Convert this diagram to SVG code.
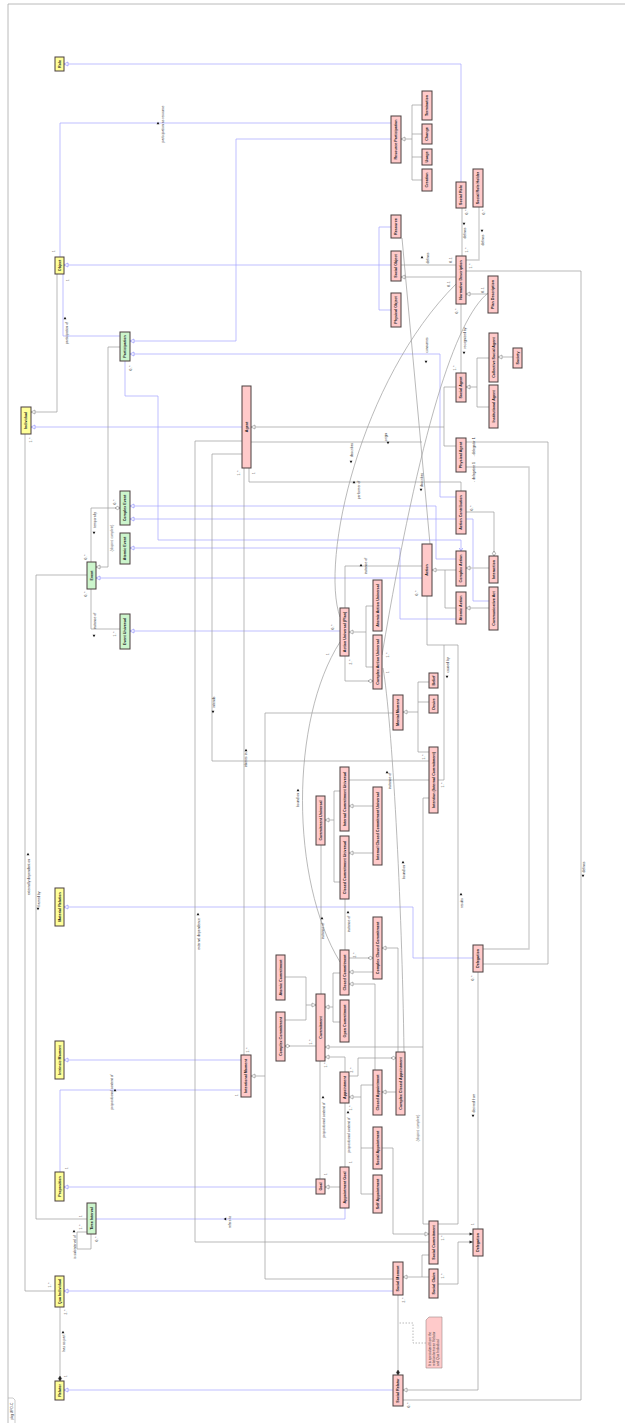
<svg xmlns="http://www.w3.org/2000/svg" width="625" height="1423" viewBox="0 0 625 1423" font-family="'Liberation Sans', Arial, sans-serif">
<style>
text{font-family:'Liberation Sans',Arial,sans-serif}
.n rect{stroke:#4a3e3e;stroke-width:1}
.n text{font-family:'Liberation Sans',Arial,sans-serif;font-size:3.7px;font-weight:bold;text-anchor:middle;dominant-baseline:central;fill:#222}
.y rect{fill:#ffff99}
.gr rect{fill:#ccf5cc}
.p rect{fill:#ffcaca}
#conn path{fill:none;stroke:#9c9c9c;stroke-width:0.7}
#conn path.b{stroke:#a4a4ff}
#conn path.t{stroke:#cfcfcf;stroke-width:1.4}
#conn path.d{stroke-dasharray:1.5,1.5}
.el{font-family:'Liberation Sans',Arial,sans-serif;font-size:3.4px;fill:#333;text-anchor:middle;dominant-baseline:central}
.m{font-family:'Liberation Sans',Arial,sans-serif;font-size:3.2px;fill:#555;text-anchor:middle;dominant-baseline:central}
.ta{fill:#111}
</style>
<defs>
<marker id="gG" viewBox="-6 -3 7 6" refX="0" refY="0" markerWidth="7" markerHeight="6" markerUnits="userSpaceOnUse" orient="auto"><path d="M-4,-2 L0,0 L-4,2 Z" fill="#fff" stroke="#888" stroke-width="0.6"/></marker>
<marker id="gB" viewBox="-6 -3 7 6" refX="0" refY="0" markerWidth="7" markerHeight="6" markerUnits="userSpaceOnUse" orient="auto"><path d="M-4,-2 L0,0 L-4,2 Z" fill="#fff" stroke="#8888ff" stroke-width="0.6"/></marker>
<marker id="aB" viewBox="-6 -3 7 6" refX="0" refY="0" markerWidth="7" markerHeight="6" markerUnits="userSpaceOnUse" orient="auto"><path d="M-3,-1.8 L0,0 L-3,1.8" fill="none" stroke="#8888ff" stroke-width="0.6"/></marker>
<marker id="dH" viewBox="-7 -3 8 6" refX="0" refY="0" markerWidth="8" markerHeight="6" markerUnits="userSpaceOnUse" orient="auto"><path d="M0,0 L-2.5,-1.6 L-5,0 L-2.5,1.6 Z" fill="#fff" stroke="#777" stroke-width="0.6"/></marker>
<marker id="dF" viewBox="-7 -3 8 6" refX="0" refY="0" markerWidth="8" markerHeight="6" markerUnits="userSpaceOnUse" orient="auto"><path d="M0,0 L-2.5,-1.6 L-5,0 L-2.5,1.6 Z" fill="#222" stroke="#222" stroke-width="0.4"/></marker>
<marker id="aF" viewBox="-6 -3 7 6" refX="0" refY="0" markerWidth="7" markerHeight="6" markerUnits="userSpaceOnUse" orient="auto"><path d="M-3.5,-1.6 L0,0 L-3.5,1.6 Z" fill="#222"/></marker>
<path id="tri" d="M-1.2,-1.4 L1.3,0 L-1.2,1.4 Z"/>
</defs>

<rect x="0" y="0" width="625" height="1423" fill="#fff"/>
<g id="frame">
<path d="M8,1423 V4 H625" fill="none" stroke="#a8a8a8" stroke-width="0.8"/>
<path d="M8,1398 H13 L15,1400 V1423" fill="none" stroke="#a8a8a8" stroke-width="0.6"/>
<text transform="translate(12 1411) rotate(-90)" class="el">pkg UFO-C</text>
</g>

<g id="conn">
<path class="b" d="M461,182 V64 H64" marker-end="url(#gB)"/>
<path class="b" d="M391,123 H60 V257"/>
<path class="b" d="M391,265 H64" marker-end="url(#gB)"/>
<path class="b" d="M391,227 H379 V310 H391"/>
<path class="b" d="M63,274 V336 H120"/>
<path class="b" d="M391,139 H236 V341 H130" marker-end="url(#gB)"/>
<path class="b" d="M456,497 H440 V354 H130" marker-end="url(#gB)"/>
<path class="b" d="M125,361 V396 H158 V540 H461 V551" marker-end="url(#aB)"/>
<path class="b" d="M456,559 H436 V506 H130" marker-end="url(#gB)"/>
<path class="b" d="M489,601 H473 V519 H130" marker-end="url(#gB)"/>
<path class="b" d="M456,619 H400 V548 H130" marker-end="url(#gB)"/>
<path class="b" d="M422,578 H96" marker-end="url(#gB)"/>
<path class="b" d="M340,631 H130" marker-end="url(#gB)"/>
<path class="b" d="M242,427 H31" marker-end="url(#gB)"/>
<path class="b" d="M473,958 H413 V907 H64" marker-end="url(#gB)"/>
<path class="b" d="M241,1060 H64" marker-end="url(#gB)"/>
<path class="b" d="M241,1090 H60 V1172"/>
<path class="b" d="M316,1187 H64" marker-end="url(#gB)"/>
<path class="b" d="M345,1208 V1219 H96"/>
<path class="b" d="M393,1291 H64" marker-end="url(#gB)"/>
<path class="b" d="M393,1390 H64" marker-end="url(#gB)"/>
<path d="M412,139 H401" marker-end="url(#gG)"/>
<path d="M422,105 H412 V180 H422 M412,134 H422 M412,157 H422"/>
<path d="M401,265 H456"/>
<path d="M456,277 H401" marker-end="url(#gG)"/>
<path d="M462,256 V208"/>
<path class="t" d="M466,260 H479 V207"/>
<path d="M488,294 H466" marker-end="url(#gG)"/>
<path d="M466,271 H581 V1400 H403"/>
<path d="M461,304 V373"/>
<path d="M477,387 H466" marker-end="url(#gG)"/>
<path d="M489,358 H477 V407 H489"/>
<path d="M513,357 H498" marker-end="url(#gG)"/>
<path d="M444,427 H251" marker-end="url(#gG)"/>
<path d="M456,387 H444 V446 H456"/>
<path d="M466,442 H548 V964 H483"/>
<path class="t" d="M466,467 H529 V949 H483"/>
<path d="M466,512 H494 V556" marker-end="url(#dH)"/>
<path d="M249,468 V482 H461 V491"/>
<path d="M445,570 H432" marker-end="url(#gG)"/>
<path d="M456,570 H445 V608 H456"/>
<path class="t" d="M489,568 H466" marker-end="url(#gG)"/>
<path d="M489,608 H466" marker-end="url(#gG)"/>
<path d="M402,238 L430,544"/>
<path d="M422,566 H345 V608"/>
<path d="M366,632 H349" marker-end="url(#gG)"/>
<path d="M373,606 H366 V667 H373"/>
<path d="M345,656 V681 H373" marker-end="url(#dH)"/>
<path d="M340,617 C320,560 360,380 456,284"/>
<path d="M488,293 C455,320 420,430 382,655"/>
<path d="M383,668 C392,720 402,900 404,1052"/>
<path d="M340,962 C290,880 290,720 340,642"/>
<path d="M242,441 H195 V1242 H429"/>
<path d="M242,454 H212 V761 H429"/>
<path d="M244,468 V1055"/>
<path d="M265,1076 H251" marker-end="url(#gG)"/>
<path d="M393,713 H265 V1279 H393"/>
<path d="M418,712 H403" marker-end="url(#gG)"/>
<path d="M429,682 H418 V752 H429 M418,702 H429"/>
<path d="M438,780 H444 V645"/>
<path d="M429,798 H423 V1224 H429"/>
<path d="M423,1047 H325" marker-end="url(#gG)"/>
<path d="M349,780 H429"/>
<path d="M334,820 H325" marker-end="url(#gG)"/>
<path d="M340,791 H334 V882 H340"/>
<path d="M373,806 H349" marker-end="url(#gG)"/>
<path d="M373,853 H349" marker-end="url(#gG)"/>
<path d="M321,845 V994"/>
<path d="M345,899 V950"/>
<path d="M333,1007 H325" marker-end="url(#gG)"/>
<path d="M340,973 H333 V1022 H340"/>
<path d="M306,1005 H316" marker-end="url(#gG)"/>
<path d="M285,977 H306 V1020 H285"/>
<path d="M316,1046 H285" marker-end="url(#dH)"/>
<path d="M349,958 H373" marker-end="url(#dH)"/>
<path class="t" d="M373,972 H349" marker-end="url(#gG)"/>
<path d="M375,1070 V984 H349" marker-end="url(#gG)"/>
<path d="M398,1052 V948 H382" marker-end="url(#gG)"/>
<path d="M345,1072 V1057 H325" marker-end="url(#gG)"/>
<path d="M361,1097 H349" marker-end="url(#gG)"/>
<path d="M373,1085 H361 V1194 H373 M361,1148 H373"/>
<path d="M349,1076 H358 V1058 H396" marker-end="url(#dH)"/>
<path d="M396,1092 H382" marker-end="url(#gG)"/>
<path d="M320,1179 V1061"/>
<path d="M340,1187 H325" marker-end="url(#gG)"/>
<path d="M345,1167 V1103"/>
<path d="M382,1148 H393 V1234 H429" marker-end="url(#gG)"/>
<path class="t" d="M438,1234 H473" marker-end="url(#aF)"/>
<path d="M438,1284 H458 V1242 H473" marker-end="url(#aF)"/>
<path d="M422,1277 H403" marker-end="url(#gG)"/>
<path d="M429,1255 H422 V1277 H429"/>
<path d="M427,596 V645 H458 V1224 H438"/>
<path d="M478,1229 V972"/>
<path d="M478,1256 V1390 H403" marker-end="url(#gG)"/>
<path d="M398,1295 V1375" marker-end="url(#dF)"/>
<path d="M60,1307 V1381" marker-end="url(#dF)"/>
<path d="M25,434 V1291 H55"/>
<path d="M87,575 H36 V1219 H87"/>
<path d="M87,1232 H77 V1249 H91 V1234"/>
<path d="M108,567 H96" marker-end="url(#gG)"/>
<path d="M120,347 H108 V567"/>
<path d="M91,562 V508 H120" marker-end="url(#dH)"/>
<path d="M91,589 V629 H120"/>
<path d="M57,274 V412 H31" marker-end="url(#gG)"/>
<path d="M251,442 H422"/>
<path class="d" d="M426,1343 H413 V1323 H398"/>
</g>

<g id="labels">
<text class="el" transform="translate(163 124) rotate(-90)">participation as resource</text><use href="#tri" class="ta" transform="translate(158 123) rotate(-90)"/>
<text class="el" transform="translate(67 333) rotate(-90)">participation of</text><use href="#tri" class="ta" transform="translate(65 318) rotate(-90)"/>
<text class="el" transform="translate(428 258) rotate(-90)">defines</text><use href="#tri" class="ta" transform="translate(422 257) rotate(-90)"/>
<text class="el" transform="translate(465 233) rotate(-90)">defines</text><use href="#tri" class="ta" transform="translate(464 224) rotate(90)"/>
<text class="el" transform="translate(483 240) rotate(-90)">defines</text><use href="#tri" class="ta" transform="translate(482 231) rotate(90)"/>
<text class="el" transform="translate(465 338) rotate(-90)">recognized by</text><use href="#tri" class="ta" transform="translate(464 353) rotate(90)"/>
<text class="el" transform="translate(584 867) rotate(-90)">defines</text><use href="#tri" class="ta" transform="translate(583 876) rotate(90)"/>
<text class="el" transform="translate(427 345) rotate(-90)">consumes</text><use href="#tri" class="ta" transform="translate(426 362) rotate(90)"/>
<text class="el" transform="translate(352 450) rotate(-90)">describes</text><use href="#tri" class="ta" transform="translate(351 462) rotate(90)"/>
<text class="el" transform="translate(422 480) rotate(-90)">describes</text><use href="#tri" class="ta" transform="translate(421 490) rotate(90)"/>
<text class="el" transform="translate(386 437) rotate(-90)">origin</text><use href="#tri" class="ta" transform="translate(388 443) rotate(90)"/>
<text class="el" transform="translate(359 490) rotate(-90)">performer of</text><use href="#tri" class="ta" transform="translate(354 482) rotate(-90)"/>
<text class="el" transform="translate(366 566) rotate(-90)">instance of</text><use href="#tri" class="ta" transform="translate(361 565) rotate(-90)"/>
<text class="el" transform="translate(298 800) rotate(-90)">bound on</text><use href="#tri" class="ta" transform="translate(298 790) rotate(-90)"/>
<text class="el" transform="translate(404 872) rotate(-90)">bound on</text><use href="#tri" class="ta" transform="translate(403 862) rotate(-90)"/>
<text class="el" transform="translate(390 781) rotate(-90)">instance of</text><use href="#tri" class="ta" transform="translate(387 772) rotate(-90)"/>
<text class="el" transform="translate(323 931) rotate(-90)">instance of</text><use href="#tri" class="ta" transform="translate(322 918) rotate(-90)"/>
<text class="el" transform="translate(349 924) rotate(-90)">instance of</text><use href="#tri" class="ta" transform="translate(348 912) rotate(-90)"/>
<text class="el" transform="translate(324 1120) rotate(-90)">propositional content of</text><use href="#tri" class="ta" transform="translate(323 1097) rotate(-90)"/>
<text class="el" transform="translate(349 1135) rotate(-90)">propositional content of</text><use href="#tri" class="ta" transform="translate(348 1112) rotate(-90)"/>
<text class="el" transform="translate(112 1092) rotate(-90)">propositional content of</text><use href="#tri" class="ta" transform="translate(115 1090) rotate(-90)"/>
<text class="el" transform="translate(230 1222) rotate(-90)">refers to</text><use href="#tri" class="ta" transform="translate(225 1219) rotate(180)"/>
<text class="m" transform="translate(418 1128) rotate(-90)">{disjoint, complete}</text>
<text class="el" transform="translate(448 665) rotate(-90)">caused by</text><use href="#tri" class="ta" transform="translate(447 677) rotate(90)"/>
<text class="el" transform="translate(462 903) rotate(-90)">results</text><use href="#tri" class="ta" transform="translate(461 894) rotate(-90)"/>
<text class="el" transform="translate(474 1103) rotate(-90)">derived from</text><use href="#tri" class="ta" transform="translate(473 1116) rotate(90)"/>
<text class="el" transform="translate(199 934) rotate(-90)">external dependence</text><use href="#tri" class="ta" transform="translate(198 914) rotate(-90)"/>
<text class="el" transform="translate(29 877) rotate(-90)">externally dependent on</text><use href="#tri" class="ta" transform="translate(28 854) rotate(-90)"/>
<text class="el" transform="translate(39 899) rotate(-90)">framed by</text><use href="#tri" class="ta" transform="translate(38 909) rotate(90)"/>
<text class="el" transform="translate(75 1247) rotate(-90)">is subinterval of</text><use href="#tri" class="ta" transform="translate(74 1231) rotate(-90)"/>
<text class="el" transform="translate(64 1343) rotate(-90)">has as part</text><use href="#tri" class="ta" transform="translate(63 1332) rotate(-90)"/>
<text class="el" transform="translate(95 520) rotate(-90)">temporally</text><use href="#tri" class="ta" transform="translate(94 533) rotate(90)"/>
<text class="el" transform="translate(95 621) rotate(-90)">instance of</text><use href="#tri" class="ta" transform="translate(94 636) rotate(90)"/>
<text class="m" transform="translate(112 538) rotate(-90)">{disjoint, complete}</text>
<text class="el" transform="translate(246 760) rotate(-90)">inheres in</text><use href="#tri" class="ta" transform="translate(246 750) rotate(-90)"/>
<text class="el" transform="translate(214 702) rotate(-90)">intends</text><use href="#tri" class="ta" transform="translate(213 712) rotate(90)"/>
<text class="el" transform="translate(474 447) rotate(-90)">- delegator 1</text>
<text class="el" transform="translate(474 472) rotate(-90)">- delegatee 1</text>
<g class="m">
<text class="m" transform="translate(54 251) rotate(-90)">1</text>
<text class="m" transform="translate(68 280) rotate(-90)">1</text>
<text class="m" transform="translate(131 368) rotate(-90)">0..*</text>
<text class="m" transform="translate(86 557) rotate(-90)">0..*</text>
<text class="m" transform="translate(86 594) rotate(-90)">0..*</text>
<text class="m" transform="translate(115 502) rotate(-90)">0..*</text>
<text class="m" transform="translate(115 634) rotate(-90)">1..*</text>
<text class="m" transform="translate(31 440) rotate(-90)">1..*</text>
<text class="m" transform="translate(50 1285) rotate(-90)">1..*</text>
<text class="m" transform="translate(81 1216) rotate(-90)">1</text>
<text class="m" transform="translate(81 1227) rotate(-90)">1..*</text>
<text class="m" transform="translate(97 1239) rotate(-90)">0..*</text>
<text class="m" transform="translate(67 1168) rotate(-90)">1</text>
<text class="m" transform="translate(66 1312) rotate(-90)">2..*</text>
<text class="m" transform="translate(66 1376) rotate(-90)">1</text>
<text class="m" transform="translate(237 1095) rotate(-90)">1</text>
<text class="m" transform="translate(451 260) rotate(-90)">0..1</text>
<text class="m" transform="translate(467 212) rotate(-90)">0..*</text>
<text class="m" transform="translate(467 250) rotate(-90)">1..*</text>
<text class="m" transform="translate(484 212) rotate(-90)">0..*</text>
<text class="m" transform="translate(471 266) rotate(-90)">1..*</text>
<text class="m" transform="translate(457 311) rotate(-90)">0..*</text>
<text class="m" transform="translate(455 368) rotate(-90)">1..*</text>
<text class="m" transform="translate(449 284) rotate(-90)">0..1</text>
<text class="m" transform="translate(483 290) rotate(-90)">0..1</text>
<text class="m" transform="translate(472 508) rotate(-90)">0..*</text>
<text class="m" transform="translate(254 473) rotate(-90)">1</text>
<text class="m" transform="translate(239 473) rotate(-90)">1..*</text>
<text class="m" transform="translate(248 1050) rotate(-90)">1..*</text>
<text class="m" transform="translate(417 593) rotate(-90)">0..*</text>
<text class="m" transform="translate(333 627) rotate(-90)">0..*</text>
<text class="m" transform="translate(328 654) rotate(-90)">1</text>
<text class="m" transform="translate(351 662) rotate(-90)">2..*</text>
<text class="m" transform="translate(388 655) rotate(-90)">1..*</text>
<text class="m" transform="translate(388 672) rotate(-90)">1</text>
<text class="m" transform="translate(424 757) rotate(-90)">1..*</text>
<text class="m" transform="translate(443 785) rotate(-90)">1..*</text>
<text class="m" transform="translate(355 955) rotate(-90)">2..*</text>
<text class="m" transform="translate(311 1042) rotate(-90)">1..*</text>
<text class="m" transform="translate(326 1065) rotate(-90)">1..*</text>
<text class="m" transform="translate(326 1174) rotate(-90)">1</text>
<text class="m" transform="translate(351 1108) rotate(-90)">1..*</text>
<text class="m" transform="translate(351 1162) rotate(-90)">1</text>
<text class="m" transform="translate(352 1070) rotate(-90)">2..*</text>
<text class="m" transform="translate(443 1238) rotate(-90)">1..*</text>
<text class="m" transform="translate(443 1276) rotate(-90)">1..*</text>
<text class="m" transform="translate(473 1224) rotate(-90)">1</text>
<text class="m" transform="translate(473 978) rotate(-90)">0..*</text>
<text class="m" transform="translate(404 1300) rotate(-90)">2..*</text>
<text class="m" transform="translate(409 1405) rotate(-90)">0..*</text>
</g>
</g>

<g id="nodes">
<g id="role" class="n y"><rect x="55" y="57" width="9" height="14"/><text transform="translate(59.5 64) rotate(-90)">Role</text></g>
<g id="object" class="n y"><rect x="55" y="257" width="9" height="17"/><text transform="translate(59.5 265.5) rotate(-90)">Object</text></g>
<g id="individual" class="n y"><rect x="21" y="407" width="10" height="27"/><text transform="translate(26 420.5) rotate(-90)">Individual</text></g>
<g id="materialRelation" class="n y"><rect x="55" y="888" width="9" height="38"/><text transform="translate(59.5 907) rotate(-90)">Material Relation</text></g>
<g id="intrinsicMoment" class="n y"><rect x="55" y="1041" width="9" height="38"/><text transform="translate(59.5 1060) rotate(-90)">Intrinsic Moment</text></g>
<g id="proposition" class="n y"><rect x="55" y="1172" width="9" height="29"/><text transform="translate(59.5 1186.5) rotate(-90)">Proposition</text></g>
<g id="quaIndividual" class="n y"><rect x="55" y="1276" width="9" height="31"/><text transform="translate(59.5 1291.5) rotate(-90)">Qua Individual</text></g>
<g id="relator" class="n y"><rect x="55" y="1381" width="9" height="19"/><text transform="translate(59.5 1390.5) rotate(-90)">Relator</text></g>
<g id="participation" class="n gr"><rect x="120" y="332" width="10" height="29"/><text transform="translate(125 346.5) rotate(-90)">Participation</text></g>
<g id="complexEvent" class="n gr"><rect x="120" y="491" width="10" height="34"/><text transform="translate(125 508) rotate(-90)">Complex Event</text></g>
<g id="atomicEvent" class="n gr"><rect x="120" y="533" width="10" height="31"/><text transform="translate(125 548.5) rotate(-90)">Atomic Event</text></g>
<g id="event" class="n gr"><rect x="87" y="562" width="9" height="27"/><text transform="translate(91.5 575.5) rotate(-90)">Event</text></g>
<g id="eventUniversal" class="n gr"><rect x="120" y="614" width="10" height="35"/><text transform="translate(125 631.5) rotate(-90)">Event Universal</text></g>
<g id="timeInterval" class="n gr"><rect x="87" y="1203" width="9" height="31"/><text transform="translate(91.5 1218.5) rotate(-90)">Time Interval</text></g>
<g id="resourceParticipation" class="n p"><rect x="391" y="116" width="10" height="47"/><text transform="translate(396 139.5) rotate(-90)">Resource Participation</text></g>
<g id="termination" class="n p"><rect x="422" y="91" width="10" height="29"/><text transform="translate(427 105.5) rotate(-90)">Termination</text></g>
<g id="change" class="n p"><rect x="422" y="124" width="10" height="20"/><text transform="translate(427 134) rotate(-90)">Change</text></g>
<g id="usage" class="n p"><rect x="422" y="149" width="10" height="16"/><text transform="translate(427 157) rotate(-90)">Usage</text></g>
<g id="creation" class="n p"><rect x="422" y="169" width="10" height="22"/><text transform="translate(427 180) rotate(-90)">Creation</text></g>
<g id="resource" class="n p"><rect x="391" y="215" width="10" height="23"/><text transform="translate(396 226.5) rotate(-90)">Resource</text></g>
<g id="socialObject" class="n p"><rect x="391" y="251" width="10" height="30"/><text transform="translate(396 266) rotate(-90)">Social Object</text></g>
<g id="physicalObject" class="n p"><rect x="391" y="293" width="10" height="34"/><text transform="translate(396 310) rotate(-90)">Physical Object</text></g>
<g id="socialRole" class="n p"><rect x="456" y="182" width="10" height="26"/><text transform="translate(461 195) rotate(-90)">Social Role</text></g>
<g id="socialRoleHolder" class="n p"><rect x="473" y="169" width="10" height="38"/><text transform="translate(478 188) rotate(-90)">Social Role Holder</text></g>
<g id="normativeDescription" class="n p"><rect x="456" y="256" width="10" height="48"/><text transform="translate(461 280) rotate(-90)">Normative Description</text></g>
<g id="planDescription" class="n p"><rect x="488" y="276" width="10" height="37"/><text transform="translate(493 294.5) rotate(-90)">Plan Description</text></g>
<g id="collectiveSocialAgent" class="n p"><rect x="489" y="333" width="9" height="49"/><text transform="translate(493.5 357.5) rotate(-90)">Collective Social Agent</text></g>
<g id="society" class="n p"><rect x="513" y="348" width="9" height="20"/><text transform="translate(517.5 358) rotate(-90)">Society</text></g>
<g id="socialAgent" class="n p"><rect x="456" y="373" width="10" height="29"/><text transform="translate(461 387.5) rotate(-90)">Social Agent</text></g>
<g id="institutionalAgent" class="n p"><rect x="489" y="385" width="9" height="43"/><text transform="translate(493.5 406.5) rotate(-90)">Institutional Agent</text></g>
<g id="physicalAgent" class="n p"><rect x="456" y="438" width="10" height="34"/><text transform="translate(461 455) rotate(-90)">Physical Agent</text></g>
<g id="agent" class="n p"><rect x="242" y="386" width="9" height="82"/><text transform="translate(246.5 427) rotate(-90)">Agent</text></g>
<g id="actionContribution" class="n p"><rect x="456" y="491" width="10" height="43"/><text transform="translate(461 512.5) rotate(-90)">Action Contribution</text></g>
<g id="complexAction" class="n p"><rect x="456" y="551" width="10" height="35"/><text transform="translate(461 568.5) rotate(-90)">Complex Action</text></g>
<g id="atomicAction" class="n p"><rect x="456" y="592" width="10" height="32"/><text transform="translate(461 608) rotate(-90)">Atomic Action</text></g>
<g id="interaction" class="n p"><rect x="489" y="556" width="9" height="27"/><text transform="translate(493.5 569.5) rotate(-90)">Interaction</text></g>
<g id="communicativeAct" class="n p"><rect x="489" y="587" width="9" height="43"/><text transform="translate(493.5 608.5) rotate(-90)">Communicative Act</text></g>
<g id="action" class="n p"><rect x="422" y="544" width="10" height="52"/><text transform="translate(427 570) rotate(-90)">Action</text></g>
<g id="actionUniversal" class="n p"><rect x="340" y="608" width="9" height="48"/><text transform="translate(344.5 632) rotate(-90)">Action Universal (Plan)</text></g>
<g id="atomicActionUniversal" class="n p"><rect x="373" y="580" width="9" height="51"/><text transform="translate(377.5 605.5) rotate(-90)">Atomic Action Universal</text></g>
<g id="complexActionUniversal" class="n p"><rect x="373" y="635" width="9" height="54"/><text transform="translate(377.5 662) rotate(-90)">Complex Action Universal</text></g>
<g id="mentalMoment" class="n p"><rect x="393" y="695" width="10" height="35"/><text transform="translate(398 712.5) rotate(-90)">Mental Moment</text></g>
<g id="belief" class="n p"><rect x="429" y="673" width="9" height="15"/><text transform="translate(433.5 680.5) rotate(-90)">Belief</text></g>
<g id="desire" class="n p"><rect x="429" y="695" width="9" height="18"/><text transform="translate(433.5 704) rotate(-90)">Desire</text></g>
<g id="intention" class="n p"><rect x="429" y="747" width="9" height="66"/><text transform="translate(433.5 780) rotate(-90)">Intention (Internal Commitment)</text></g>
<g id="commitmentUniversal" class="n p"><rect x="316" y="796" width="9" height="49"/><text transform="translate(320.5 820.5) rotate(-90)">Commitment Universal</text></g>
<g id="internalCommitmentUniversal" class="n p"><rect x="340" y="767" width="9" height="64"/><text transform="translate(344.5 799) rotate(-90)">Internal Commitment Universal</text></g>
<g id="closedCommitmentUniversal" class="n p"><rect x="340" y="836" width="9" height="63"/><text transform="translate(344.5 867.5) rotate(-90)">Closed Commitment Universal</text></g>
<g id="internalClosedCommitmentUniversal" class="n p"><rect x="373" y="787" width="9" height="78"/><text transform="translate(377.5 826) rotate(-90)">Internal Closed Commitment Universal</text></g>
<g id="complexClosedCommitment" class="n p"><rect x="373" y="917" width="9" height="62"/><text transform="translate(377.5 948) rotate(-90)">Complex Closed Commitment</text></g>
<g id="closedCommitment" class="n p"><rect x="340" y="950" width="9" height="45"/><text transform="translate(344.5 972.5) rotate(-90)">Closed Commitment</text></g>
<g id="openCommitment" class="n p"><rect x="340" y="1000" width="9" height="42"/><text transform="translate(344.5 1021) rotate(-90)">Open Commitment</text></g>
<g id="atomicCommitment" class="n p"><rect x="276" y="955" width="9" height="45"/><text transform="translate(280.5 977.5) rotate(-90)">Atomic Commitment</text></g>
<g id="complexCommitment" class="n p"><rect x="276" y="1012" width="9" height="49"/><text transform="translate(280.5 1036.5) rotate(-90)">Complex Commitment</text></g>
<g id="commitment" class="n p"><rect x="316" y="994" width="9" height="67"/><text transform="translate(320.5 1027.5) rotate(-90)">Commitment</text></g>
<g id="intentionalMoment" class="n p"><rect x="241" y="1055" width="10" height="42"/><text transform="translate(246 1076) rotate(-90)">Intentional Moment</text></g>
<g id="goal" class="n p"><rect x="316" y="1179" width="9" height="15"/><text transform="translate(320.5 1186.5) rotate(-90)">Goal</text></g>
<g id="appointmentGoal" class="n p"><rect x="340" y="1167" width="9" height="41"/><text transform="translate(344.5 1187.5) rotate(-90)">Appointment Goal</text></g>
<g id="appointment" class="n p"><rect x="340" y="1072" width="9" height="31"/><text transform="translate(344.5 1087.5) rotate(-90)">Appointment</text></g>
<g id="closedAppointment" class="n p"><rect x="373" y="1070" width="9" height="45"/><text transform="translate(377.5 1092.5) rotate(-90)">Closed Appointment</text></g>
<g id="complexClosedAppointment" class="n p"><rect x="396" y="1052" width="9" height="63"/><text transform="translate(400.5 1083.5) rotate(-90)">Complex Closed Appointment</text></g>
<g id="socialAppointment" class="n p"><rect x="373" y="1127" width="9" height="42"/><text transform="translate(377.5 1148) rotate(-90)">Social Appointment</text></g>
<g id="selfAppointment" class="n p"><rect x="373" y="1175" width="9" height="38"/><text transform="translate(377.5 1194) rotate(-90)">Self Appointment</text></g>
<g id="socialMoment" class="n p"><rect x="393" y="1262" width="10" height="33"/><text transform="translate(398 1278.5) rotate(-90)">Social Moment</text></g>
<g id="socialRelator" class="n p"><rect x="393" y="1375" width="10" height="31"/><text transform="translate(398 1390.5) rotate(-90)">Social Relator</text></g>
<g id="socialCommitment" class="n p"><rect x="429" y="1221" width="9" height="43"/><text transform="translate(433.5 1242.5) rotate(-90)">Social Commitment</text></g>
<g id="socialClaim" class="n p"><rect x="429" y="1269" width="9" height="29"/><text transform="translate(433.5 1283.5) rotate(-90)">Social Claim</text></g>
<g id="delegationLower" class="n p"><rect x="473" y="1229" width="10" height="27"/><text transform="translate(478 1242.5) rotate(-90)">Delegation</text></g>
<g id="delegationUpper" class="n p"><rect x="473" y="945" width="10" height="27"/><text transform="translate(478 958.5) rotate(-90)">Delegation</text></g>
<g id="note"><path d="M426,1320 L429,1317 H442 V1368 H426 Z" fill="#ffcaca" stroke="#a08888" stroke-width="0.6"/>
<text transform="translate(430.5 1366) rotate(-90)" style="font-size:3.2px;fill:#333">It is specialized from the</text>
<text transform="translate(434.5 1366) rotate(-90)" style="font-size:3.2px;fill:#333">relation between Relator</text>
<text transform="translate(438.5 1366) rotate(-90)" style="font-size:3.2px;fill:#333">and Qua Individual.</text></g>
</g>
</svg>
